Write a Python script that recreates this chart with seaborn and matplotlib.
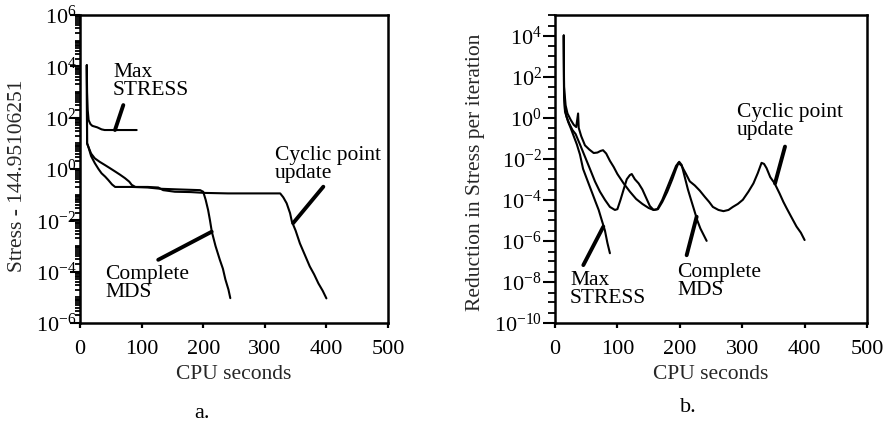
import numpy as np
import pandas as pd
import matplotlib
matplotlib.use("Agg")
import matplotlib.pyplot as plt
import seaborn as sns
from matplotlib.ticker import FixedLocator, LogLocator, LogFormatterMathtext, NullFormatter

# ---------------- data: (a) stress above the optimum vs CPU time ----------------
a_max_x = [11, 11.5, 12.5, 14, 17, 20, 28, 35, 40, 92]
a_max_y = [1.1e4, 1.0e3, 2.0e2, 8.0e1, 5.6e1, 4.8e1, 4.2e1, 3.5e1, 3.3e1, 3.3e1]

a_mds_x = [11, 11.5, 13.5, 18, 24, 30, 35, 41, 46, 52, 57, 84, 110, 130, 160, 195,
           200, 204, 208, 211, 214, 220, 227, 232, 236, 241, 244]
a_mds_y = [1.1e4, 10, 7.4, 3.2, 1.7, 1.0, 0.68, 0.5, 0.37, 0.25, 0.2, 0.2, 0.19,
           0.17, 0.16, 0.15, 0.13, 6.3e-2, 2.5e-2, 1.0e-2, 3.6e-3, 1.0e-3, 2.9e-4,
           1.3e-4, 5.0e-5, 2.0e-5, 9.3e-6]

a_cyc_x = [11, 11.5, 13.5, 18, 24, 32, 40, 48, 57, 65, 73, 80, 84, 90, 110, 127,
           135, 154, 180, 203, 240, 290, 325, 330, 335.5, 341, 344, 350, 357, 365,
           373, 380, 387, 394, 400]
a_cyc_y = [1.1e4, 10, 7.4, 4.0, 2.6, 1.9, 1.45, 1.1, 0.8, 0.6, 0.44, 0.32, 0.24,
           0.2, 0.2, 0.19, 0.15, 0.13, 0.126, 0.117, 0.112, 0.112, 0.112, 7.9e-2,
           4.6e-2, 1.9e-2, 8.9e-3, 4.0e-3, 1.26e-3, 4.5e-4, 1.6e-4, 7.9e-5, 3.5e-5,
           1.8e-5, 9.1e-6]

# ---------------- data: (b) reduction in stress per iteration ----------------
b_max_x = [14, 14.5, 16, 18, 21, 25, 30, 35, 40, 45, 50, 55, 60, 65, 70, 75, 80, 84, 88]
b_max_y = [1e4, 10, 2.5, 1.26, 0.63, 0.32, 0.126, 0.05, 1.6e-2, 3.2e-3, 1.26e-3,
           5e-4, 2e-4, 7.9e-5, 3.2e-5, 1e-5, 3.2e-6, 7.9e-7, 2.5e-7]

b_mds_x = [14, 14.5, 16, 19, 23, 28, 33, 40, 48, 56, 64, 72, 80, 88, 96, 100, 105,
           110, 115, 120, 123, 128, 134, 140, 146, 152, 158, 164, 172, 180, 188, 194,
           199, 203, 208, 213, 218, 223, 228, 233, 238, 243]
b_mds_y = [1e4, 16, 2.0, 1.0, 0.5, 0.25, 0.16, 5.0e-2, 1.26e-2, 3.2e-3, 7.9e-4,
           2.5e-4, 1.0e-4, 4.5e-5, 3.2e-5, 3.5e-5, 1.0e-4, 3.2e-4, 1.0e-3, 1.6e-3,
           1.8e-3, 1.0e-3, 6.3e-4, 3.2e-4, 1.26e-4, 5.0e-5, 3.2e-5, 3.5e-5, 1.0e-4,
           4.0e-4, 1.6e-3, 4.5e-3, 7.1e-3, 5.0e-3, 1.26e-3, 3.2e-4, 1.0e-4, 3.2e-5,
           1.0e-5, 4.0e-6, 2.0e-6, 1.0e-6]

b_cyc_x = [14, 14.5, 17, 20, 25, 30, 34, 37, 38, 42, 48, 55, 62, 68, 73, 77, 82, 88,
           94, 100, 110, 120, 130, 140, 150, 158, 165, 172, 180, 188, 194, 198, 203,
           210, 216, 224, 232, 240, 247, 253, 262, 270, 278, 285, 293, 301, 310, 318,
           325, 331, 335, 339, 345, 352, 360, 366, 371, 378, 387, 394, 400]
b_cyc_y = [1e4, 32, 4.0, 1.6, 0.8, 0.45, 0.35, 1.6, 0.32, 0.126, 4.5e-2, 2.8e-2,
           1.9e-2, 2.0e-2, 2.4e-2, 2.6e-2, 1.8e-2, 7.9e-3, 4.0e-3, 1.8e-3, 6.3e-4,
           2.5e-4, 1.1e-4, 6.3e-5, 4.0e-5, 3.2e-5, 3.5e-5, 7.9e-5, 2.5e-4, 1.0e-3,
           3.2e-3, 6.3e-3, 4.5e-3, 1.8e-3, 7.9e-4, 5.0e-4, 2.8e-4, 1.4e-4, 7.9e-5,
           4.5e-5, 3.2e-5, 2.8e-5, 3.2e-5, 4.5e-5, 6.3e-5, 1.0e-4, 2.5e-4, 6.3e-4,
           2.0e-3, 6.3e-3, 5.6e-3, 3.5e-3, 1.26e-3, 6.3e-4, 2.0e-4, 7.9e-5, 4.0e-5,
           1.6e-5, 5.0e-6, 2.5e-6, 1.1e-6]

cpu_ticks = [0, 100, 200, 300, 400, 500]
a_decades = [1e-6, 1e-4, 1e-2, 1e0, 1e2, 1e4, 1e6]
b_decades = [1e-10, 1e-8, 1e-6, 1e-4, 1e-2, 1e0, 1e2, 1e4]

# curve labels: text, anchor (top-left) and leader line (start, end)
a_labels = [
    ("Max\nSTRESS", (53.6, 1.35e4), [(70.3, 309.0), (56.8, 33.0)]),
    ("Cyclic point\nupdate", (316.6, 7.9), [(395.0, 0.204), (346.0, 7.8e-3)]),
    ("Complete\nMDS", (40.6, 1.8e-4), [(127.0, 2.9e-4), (213.8, 3.6e-3)]),
]
b_labels = [
    ("Max\nSTRESS", (24.0, 3.4e-8), [(45.4, 6.6e-8), (77.4, 4.9e-6)]),
    ("Complete\nMDS", (195.5, 8.3e-8), [(211.0, 2.0e-7), (227.0, 1.5e-5)]),
    ("Cyclic point\nupdate", (291.7, 5.1), [(368.6, 3.9e-2), (352.6, 6.3e-4)]),
]

# ---------------- style ----------------
sns.set_theme(style="ticks")
plt.rcParams.update({
    "font.family": ["Liberation Serif", "DejaVu Serif"],
    "mathtext.fontset": "custom",
    "mathtext.rm": "Liberation Serif",
    "mathtext.it": "Liberation Serif:italic",
    "mathtext.bf": "Liberation Serif:bold",
    "axes.linewidth": 1.8,
    "axes.edgecolor": "black",
    "text.color": "black",
    "xtick.color": "black",
    "ytick.color": "black",
})

TICK_FS = 16
LABEL_FS = 15.5
NOTE_FS = 15.5


def series_frame(parts):
    rows = []
    for name, xs, ys in parts:
        rows.append(pd.DataFrame({"cpu": xs, "val": ys, "method": name}))
    return pd.concat(rows, ignore_index=True)


def draw_panel(ax, df, ylim, decades, minor_subs, ylabel, ylabel_pos, labels,
               major_len, minor_len, ypad):
    ax.set_yscale("log")
    sns.lineplot(data=df, x="cpu", y="val", units="method", estimator=None,
                 sort=False, color="black", linewidth=1.5, ax=ax, legend=False)
    ax.set_xlim(0, 500)
    ax.set_ylim(*ylim)
    ax.xaxis.set_major_locator(FixedLocator(cpu_ticks))
    ax.yaxis.set_major_locator(FixedLocator(decades))
    ax.yaxis.set_major_formatter(LogFormatterMathtext())
    ax.yaxis.set_minor_locator(LogLocator(base=10, subs=minor_subs, numticks=100))
    ax.yaxis.set_minor_formatter(NullFormatter())
    ax.tick_params(axis="x", direction="out", length=3.5, width=1.6, pad=9,
                   labelsize=TICK_FS)
    ax.tick_params(axis="y", which="major", direction="out", length=major_len,
                   width=1.5, pad=ypad, labelsize=TICK_FS)
    ax.tick_params(axis="y", which="minor", direction="out", length=minor_len,
                   width=1.3)
    ax.set_xlabel("CPU seconds", fontsize=LABEL_FS, labelpad=4)
    ax.set_ylabel(ylabel, fontsize=LABEL_FS)
    ax.yaxis.set_label_coords(*ylabel_pos)
    for text, (tx, ty), line in labels:
        ax.text(tx, ty, text, fontsize=NOTE_FS, ha="left", va="top", linespacing=0.95)
        (x0, y0), (x1, y1) = line
        ax.annotate("", xy=(x1, y1), xytext=(x0, y0),
                    arrowprops=dict(arrowstyle="-", lw=2.8, color="black",
                                    shrinkA=0, shrinkB=0))
    for s in ax.spines.values():
        s.set_visible(True)
        s.set_linewidth(1.8)


fig = plt.figure(figsize=(8.93, 4.25), dpi=100)
W, H = 893.0, 425.0
ax_a = fig.add_axes([80 / W, (H - 323) / H, (388 - 80) / W, (323 - 15) / H])
ax_b = fig.add_axes([555 / W, (H - 323) / H, (867 - 555) / W, (323 - 15) / H])

df_a = series_frame([("Max STRESS", a_max_x, a_max_y),
                     ("Complete MDS", a_mds_x, a_mds_y),
                     ("Cyclic point update", a_cyc_x, a_cyc_y)])
df_b = series_frame([("Max STRESS", b_max_x, b_max_y),
                     ("Complete MDS", b_mds_x, b_mds_y),
                     ("Cyclic point update", b_cyc_x, b_cyc_y)])

draw_panel(ax_a, df_a, (1e-6, 1e6), a_decades, np.arange(1, 10),
           "Stress - 144.95106251", (-0.172, 0.477), a_labels, 7.5, 3.5, -5.0)
draw_panel(ax_b, df_b, (1e-10, 1e5), b_decades, [1.0, 3.0],
           "Reduction in Stress per iteration", (-0.224, 0.489), b_labels,
           8.5, 5.0, 1.0)

fig.text(202 / W, 1 - 413 / H, "a.", fontsize=16, ha="center", va="center")
fig.text(688 / W, 1 - 408 / H, "b.", fontsize=16, ha="center", va="center")

fig.savefig("out.png", dpi=100, facecolor="white")
